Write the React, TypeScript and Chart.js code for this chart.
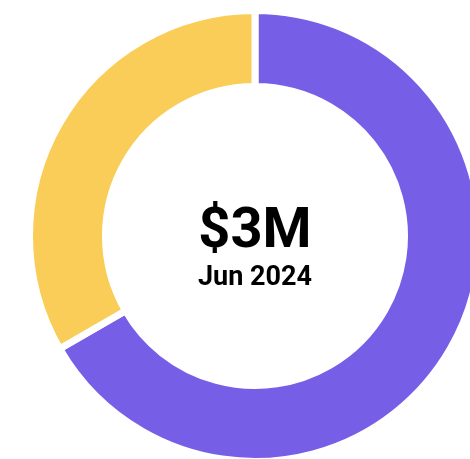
import React, { useEffect, useRef } from "react";
import { Chart, registerables } from "chart.js";

Chart.register(...registerables);

const labels = ["Segment A", "Segment B"];
const values = [2, 1];
const colors = ["#775EE6", "#F9CD57"];
const centerTitle = "$3M";
const centerSubtitle = "Jun 2024";

export default function App() {
  const ref = useRef<HTMLCanvasElement | null>(null);

  useEffect(() => {
    if (!ref.current) return;
    const centerText = {
      id: "centerText",
      afterDraw(chart: any) {
        const { ctx, chartArea } = chart;
        const cx = (chartArea.left + chartArea.right) / 2;
        const cy = (chartArea.top + chartArea.bottom) / 2;
        ctx.save();
        ctx.fillStyle = "#000";
        ctx.textAlign = "center";
        ctx.textBaseline = "alphabetic";
        ctx.font = "bold 56px Roboto";
        ctx.fillText(centerTitle, cx, cy + 11);
        ctx.font = "bold 27px Roboto";
        ctx.fillText(centerSubtitle, cx, cy + 49);
        ctx.restore();
      },
    };
    const chart = new Chart(ref.current, {
      type: "doughnut",
      data: {
        labels,
        datasets: [
          {
            data: values,
            backgroundColor: colors,
            borderColor: "#ffffff",
            borderWidth: 7,
            hoverOffset: 0,
          },
        ],
      },
      options: {
        responsive: false,
        animation: false,
        cutout: "66.3%",
        layout: { padding: 0 },
        plugins: {
          legend: { display: false },
          tooltip: { enabled: false },
        },
      },
      plugins: [centerText],
    });
    return () => chart.destroy();
  }, []);

  return (
    <div
      style={{
        position: "fixed",
        left: 0,
        top: 0,
        width: 470,
        height: 459,
        overflow: "hidden",
        background: "#fff",
      }}
    >
      <div style={{ position: "absolute", left: 26, top: 7, width: 458, height: 458 }}>
        <canvas ref={ref} width={458} height={458} />
      </div>
    </div>
  );
}
